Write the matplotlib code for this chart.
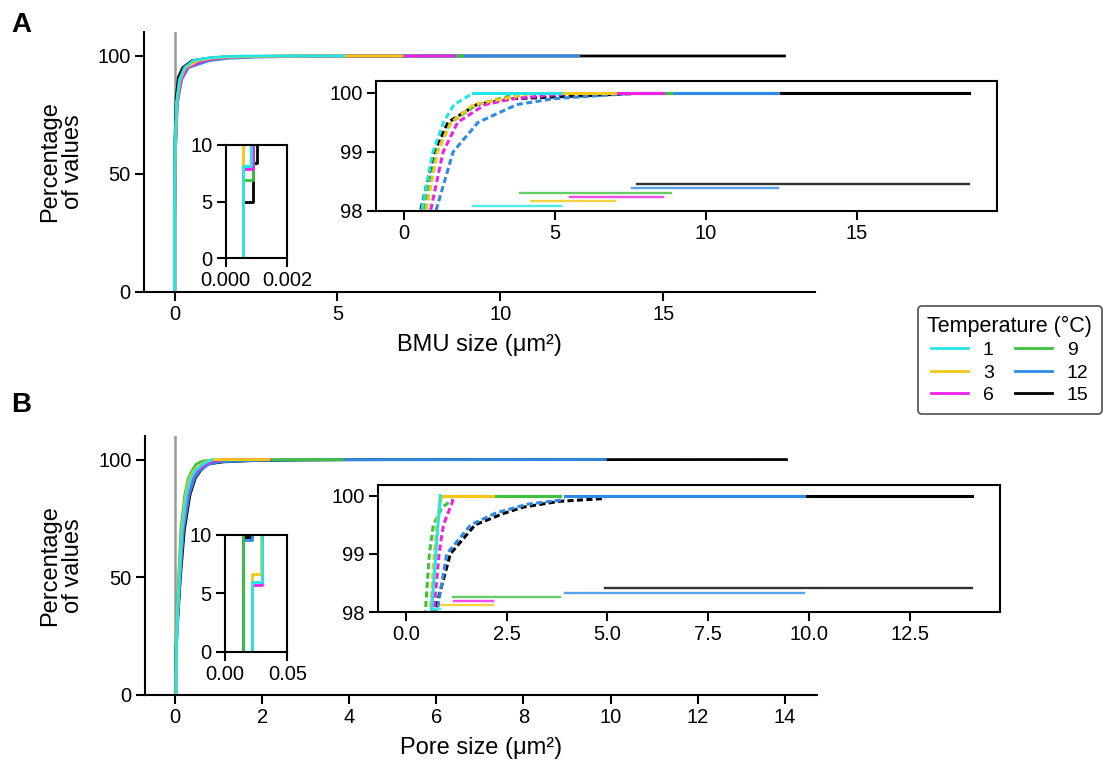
import matplotlib
matplotlib.use("Agg")
import matplotlib.pyplot as plt

plt.rcParams["font.family"] = ["Liberation Sans", "DejaVu Sans"]
plt.rcParams["font.size"] = 14.5

temps = [1, 3, 6, 9, 12, 15]
colors = ["#22E6E6", "#F2C814", "#F020E8", "#40C040", "#2E8AE6", "#000000"]

# BMU size ECDF points (um^2, percent), one list per temperature
bmu_x = [
    [0.00057, 0.00057, 0.00081, 0.003, 0.02, 0.06, 0.15, 0.3, 0.57, 0.95, 1.3, 1.65, 2.27, 5.2],
    [0.00057, 0.00057, 0.004, 0.025, 0.07, 0.17, 0.33, 0.72, 1.1, 1.55, 2.3, 4.21, 6.98],
    [0.00057, 0.00057, 0.00088, 0.004, 0.03, 0.08, 0.2, 0.38, 0.87, 1.29, 1.77, 2.68, 3.58, 5.49, 8.59],
    [0.00057, 0.00057, 0.00088, 0.004, 0.025, 0.07, 0.17, 0.33, 0.65, 1.08, 1.55, 2.4, 3.83, 8.84],
    [0.00057, 0.00057, 0.00081, 0.004, 0.03, 0.09, 0.22, 0.42, 1.05, 1.62, 2.45, 3.73, 4.93, 7.56, 12.41],
    [0.00057, 0.00057, 0.0009, 0.0009, 0.001, 0.003, 0.015, 0.05, 0.12, 0.25, 0.54, 1.0, 1.45, 2.4, 3.6, 7.71, 18.72],
]
bmu_y = [
    [0, 8.15, 20, 35, 60, 80, 90, 95, 98, 99, 99.5, 99.8, 99.99, 100],
    [0, 20, 35, 60, 80, 90, 95, 98, 99, 99.5, 99.8, 99.99, 100],
    [0, 7.85, 20, 33, 60, 80, 90, 95, 98, 99, 99.5, 99.8, 99.9, 99.99, 100],
    [0, 6.9, 20, 35, 60, 80, 90, 95, 98, 99, 99.5, 99.8, 99.99, 100],
    [0, 8.0, 20, 33, 60, 80, 90, 95, 98, 99, 99.5, 99.8, 99.9, 99.99, 100],
    [0, 5.0, 5.0, 8.4, 20, 40, 65, 82, 91, 95, 98, 99, 99.5, 99.8, 99.9, 99.99, 100],
]

# Pore size ECDF points
pore_x = [
    [0.0214, 0.0214, 0.0294, 0.06, 0.1, 0.16, 0.26, 0.36, 0.45, 0.63, 0.85],
    [0.0214, 0.0214, 0.0292, 0.05, 0.09, 0.15, 0.24, 0.33, 0.42, 0.6, 0.7, 0.78, 0.88, 2.15],
    [0.0214, 0.0214, 0.0294, 0.06, 0.1, 0.17, 0.28, 0.38, 0.48, 0.69, 0.82, 0.93, 1.13, 1.19, 2.17],
    [0.0142, 0.0142, 0.04, 0.08, 0.13, 0.22, 0.3, 0.38, 0.48, 0.58, 0.68, 0.9, 1.16, 3.83],
    [0.0142, 0.0142, 0.0214, 0.06, 0.11, 0.19, 0.32, 0.44, 0.55, 0.77, 1.01, 1.61, 2.23, 3.0, 3.94, 9.88],
    [0.0142, 0.0142, 0.0214, 0.07, 0.12, 0.21, 0.34, 0.46, 0.57, 0.71, 1.1, 1.72, 2.45, 2.9, 3.8, 4.95, 14.04],
]
pore_y = [
    [0, 6.0, 20, 35, 50, 70, 85, 92, 95, 98, 100],
    [0, 6.7, 20, 35, 50, 70, 85, 92, 95, 98, 99, 99.6, 99.96, 100],
    [0, 5.7, 20, 35, 50, 70, 85, 92, 95, 98, 99, 99.5, 99.85, 99.97, 100],
    [0, 20, 35, 50, 70, 85, 92, 95, 98, 99, 99.5, 99.8, 99.93, 100],
    [0, 9.6, 20, 35, 50, 70, 85, 92, 95, 98, 99, 99.5, 99.7, 99.85, 99.93, 100],
    [0, 9.85, 20, 35, 50, 70, 85, 92, 95, 98, 99, 99.5, 99.7, 99.8, 99.9, 99.95, 100],
]

W, H = 1112, 767


def box(x0, y0, x1, y1):
    # pixel box (top-left origin) -> figure fraction rect
    return [x0 / W, 1 - y1 / H, (x1 - x0) / W, (y1 - y0) / H]


def style(ax, full=False):
    for s in ax.spines.values():
        s.set_linewidth(1.5)
    if not full:
        ax.spines["top"].set_visible(False)
        ax.spines["right"].set_visible(False)
    ax.tick_params(width=1.5, length=6.5, labelsize=14.5, pad=3)


def panel(main_rect, big_rect, small_rect, xs, ys, xticks, xlabel, small_xlim,
          small_ticks, big_xticks, bar_base, bar_step, big_top):
    xmax = max(max(x) for x in xs)
    xlim = (-0.05 * xmax, xmax * 1.05)

    ax = fig.add_axes(main_rect)
    style(ax)
    ax.axvline(0, color="#999999", lw=1.8, zorder=0)
    for i in reversed(range(len(temps))):
        ax.plot(xs[i], ys[i], color=colors[i], lw=2)
    ax.set_xlim(xlim)
    ax.set_ylim(0, 110)
    ax.set_yticks([0, 50, 100])
    ax.set_xticks(xticks)
    ax.set_xlabel(xlabel, fontsize=17, labelpad=7)
    ax.set_ylabel("Percentage\nof values", fontsize=17, labelpad=10, linespacing=1.05)

    ins = fig.add_axes(big_rect)
    style(ins, full=True)
    for i in reversed(range(len(temps))):
        ins.plot(xs[i][:-1], ys[i][:-1], color=colors[i], lw=2.2, dashes=(2.0, 1.1))
        ins.plot(xs[i][-2:], [ys[i][-1]] * 2 if ys[i][-2] > 99.9 else ys[i][-2:],
                 color=colors[i], lw=2.2)
    for i in range(len(temps)):
        yb = bar_base + bar_step * i
        ins.plot([xs[i][-2], xs[i][-1]], [yb, yb], color=colors[i], lw=1.7, alpha=0.8)
    ins.set_xlim(xlim)
    ins.set_ylim(98, big_top)
    ins.set_yticks([98, 99, 100])
    ins.set_xticks(big_xticks)

    sm = fig.add_axes(small_rect)
    style(sm, full=True)
    for i in reversed(range(len(temps))):
        sm.plot(xs[i], ys[i], color=colors[i], lw=2, drawstyle="steps-post")
    sm.set_xlim(small_xlim)
    sm.set_ylim(0, 10)
    sm.set_yticks([0, 5, 10])
    sm.set_xticks(small_xlim)
    sm.set_xticklabels(small_ticks)
    return ax


fig = plt.figure(figsize=(W / 100, H / 100), dpi=100)

panel(box(144, 32.4, 815, 291.7), box(376, 81, 997, 211), box(225.7, 145, 287.3, 258.3),
      bmu_x, bmu_y, [0, 5, 10, 15], "BMU size (μm²)", (0, 0.002), ["0.000", "0.002"],
      [0, 5, 10, 15], 98.09, 0.074, 100.2)
panel(box(144.6, 436, 817, 695), box(377.7, 485, 1000, 612.3), box(225, 535, 287.3, 651.7),
      pore_x, pore_y, [0, 2, 4, 6, 8, 10, 12, 14], "Pore size (μm²)", (0, 0.05),
      ["0.00", "0.05"], [0, 2.5, 5, 7.5, 10, 12.5], 98.055, 0.071, 100.18)

fig.text(11 / W, 1 - 25 / H, "A", fontsize=20, fontweight="bold", va="center")
fig.text(11 / W, 1 - 405 / H, "B", fontsize=20, fontweight="bold", va="center")

handles = [plt.Line2D([], [], color=c, lw=2) for c in colors]
leg = fig.legend(handles, [str(t) for t in temps], title="Temperature (°C)", ncol=2,
                 loc="upper left", bbox_to_anchor=(908 / W, 1 - 296 / H),
                 fontsize=14, title_fontsize=15.5, handlelength=1.9, handletextpad=0.75,
                 columnspacing=1.1, labelspacing=0.25, borderpad=0.5,
                 frameon=True, fancybox=True)
leg.get_frame().set_edgecolor("#222222")
leg.get_frame().set_linewidth(1.2)

fig.savefig("out.png", dpi=100)
